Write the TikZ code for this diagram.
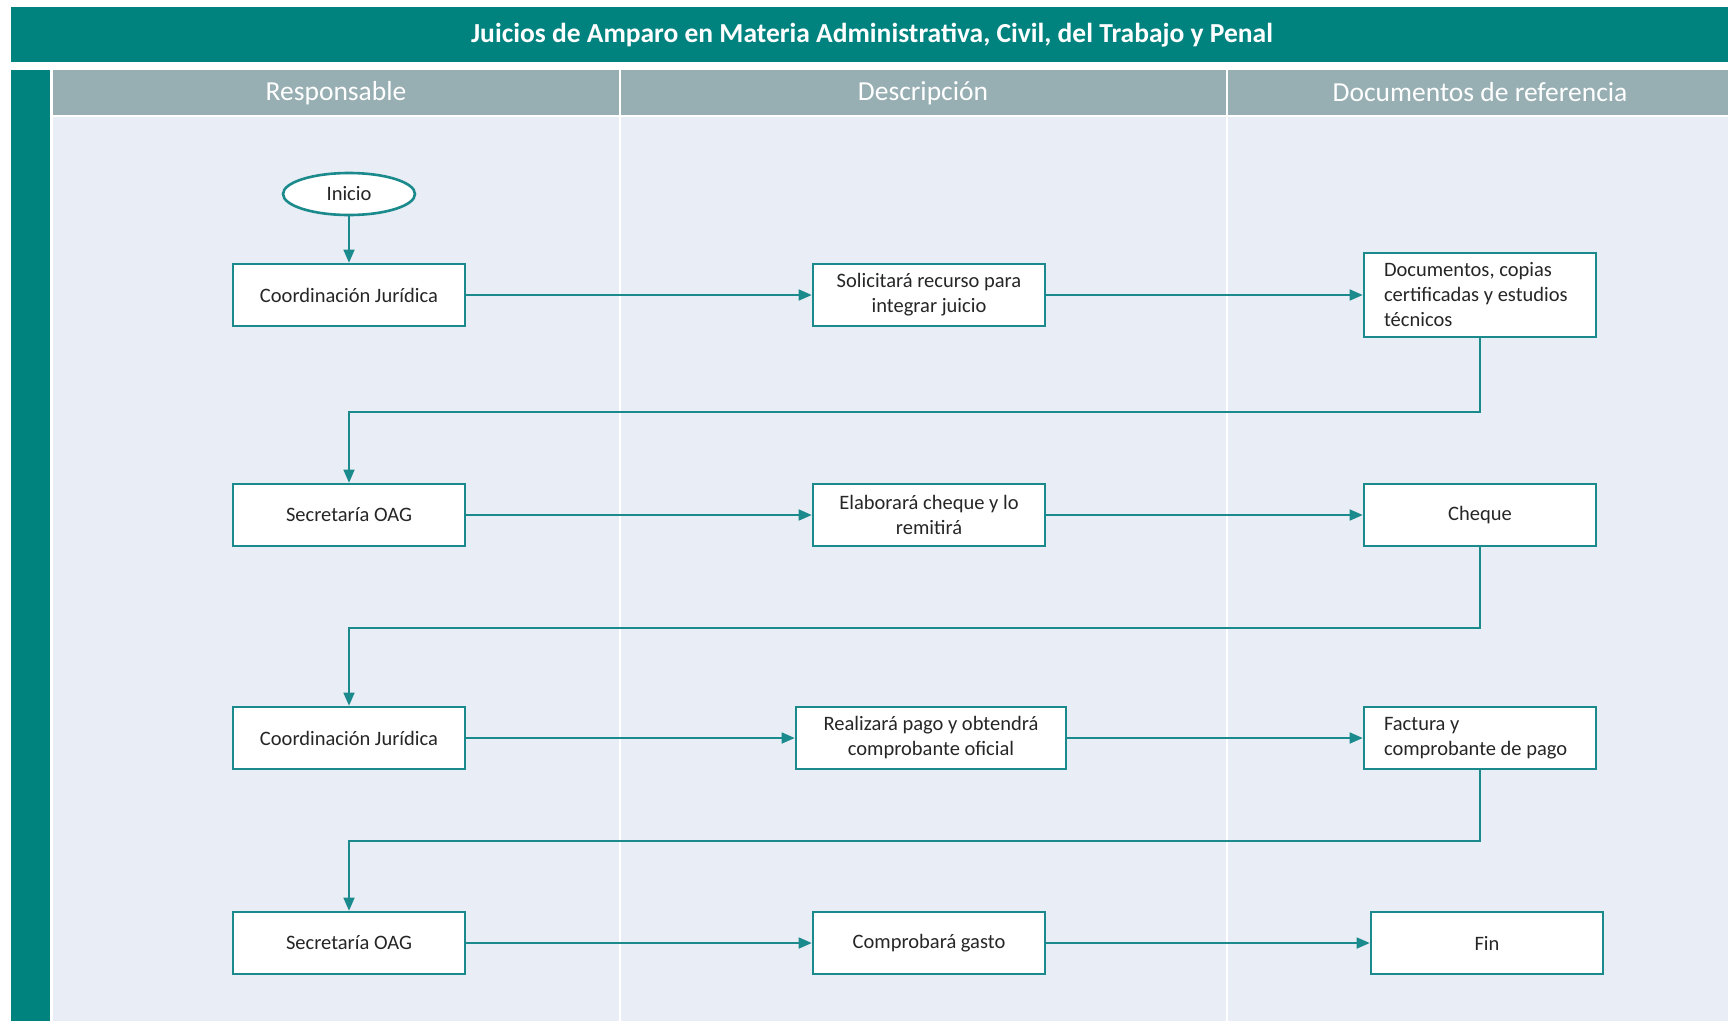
\documentclass[tikz,border=0pt]{standalone}
\usepackage{fontspec}
\setmainfont{Carlito}
\usetikzlibrary{arrows.meta,shapes.geometric}
\definecolor{tealbar}{HTML}{00827F}
\definecolor{lineteal}{HTML}{1B8A8C}
\definecolor{hdrgray}{HTML}{97AEB2}
\definecolor{bodybg}{HTML}{E9EDF5}
\definecolor{txt}{HTML}{262626}
\tikzset{
  procbox/.style={draw=lineteal, line width=2.6pt, fill=white, minimum width=232pt,
    minimum height=62pt, align=center, text=txt, inner sep=4pt,
    font=\fontsize{20.5}{25}\selectfont},
  docbox/.style={procbox, align=flush left, text width=192pt},
  startnode/.style={ellipse, draw=lineteal, line width=2.6pt, fill=white,
    minimum width=132pt, minimum height=42pt, text=txt, inner sep=0pt,
    font=\fontsize{20.5}{25}\selectfont},
  flow/.style={draw=lineteal, line width=1.6pt, -{Triangle[length=13pt,width=11pt]}},
  hdrtext/.style={text=white, font=\fontsize{27.5}{32}\selectfont},
}
\begin{document}
\begin{tikzpicture}[x=1pt,y=-1pt]
\useasboundingbox (0,0) rectangle (1728,1021);
\fill[white] (0,0) rectangle (1728,1021);
% title band
\fill[tealbar] (11,7) rectangle (1728,62);
\node[text=white, font=\bfseries\fontsize{27.5}{32}\selectfont] (title) at (872,35)
  {Juicios de Amparo en Materia Administrativa, Civil, del Trabajo y Penal};
% left band, header row and body
\fill[tealbar] (11,70) rectangle (50,1021);
\fill[hdrgray] (53,70) rectangle (1728,115);
\fill[bodybg] (53,117) rectangle (1728,1021);
\draw[white, line width=2.5pt] (620,70) -- (620,1021);
\draw[white, line width=2.5pt] (1227,70) -- (1227,1021);
\node[hdrtext] (h1) at (336,93) {Responsable};
\node[hdrtext] (h2) at (923,93) {Descripción};
\node[hdrtext] (h3) at (1480,92) {Documentos de referencia};

% flow nodes
\node[startnode] (inicio) at (349,194) {Inicio};

\node[procbox] (r1) at (349,295) {Coordinación Jurídica};
\node[procbox] (d1) at (929,295) {Solicitará recurso para\\integrar juicio};
\node[docbox, minimum height=84pt] (f1) at (1480,295) {Documentos, copias\\certificadas y estudios\\técnicos};

\node[procbox] (r2) at (349,515) {Secretaría OAG};
\node[procbox] (d2) at (929,515) {Elaborará cheque y lo\\remitirá};
\node[procbox] (f2) at (1480,515) {Cheque};

\node[procbox] (r3) at (349,738) {Coordinación Jurídica};
\node[procbox, minimum width=270pt] (d3) at (931,738) {Realizará pago y obtendrá\\comprobante oficial};
\node[docbox] (f3) at (1480,738) {Factura y\\comprobante de pago};

\node[procbox] (r4) at (349,943) {Secretaría OAG};
\node[procbox] (d4) at (929,943) {Comprobará gasto};
\node[procbox] (f4) at (1487,943) {Fin};

% return lines
\coordinate (y1) at (0,412);
\coordinate (y2) at (0,628);
\coordinate (y3) at (0,841);

% connectors
\draw[flow] (inicio) -- (r1);
\draw[flow] (r1) -- (d1);
\draw[flow] (d1) -- (f1);
\draw[flow] (f1.south) -- (f1.south |- y1) -| (r2.north);
\draw[flow] (r2) -- (d2);
\draw[flow] (d2) -- (f2);
\draw[flow] (f2.south) -- (f2.south |- y2) -| (r3.north);
\draw[flow] (r3) -- (d3);
\draw[flow] (d3) -- (f3);
\draw[flow] (f3.south) -- (f3.south |- y3) -| (r4.north);
\draw[flow] (r4) -- (d4);
\draw[flow] (d4) -- (f4);
\end{tikzpicture}
\end{document}
